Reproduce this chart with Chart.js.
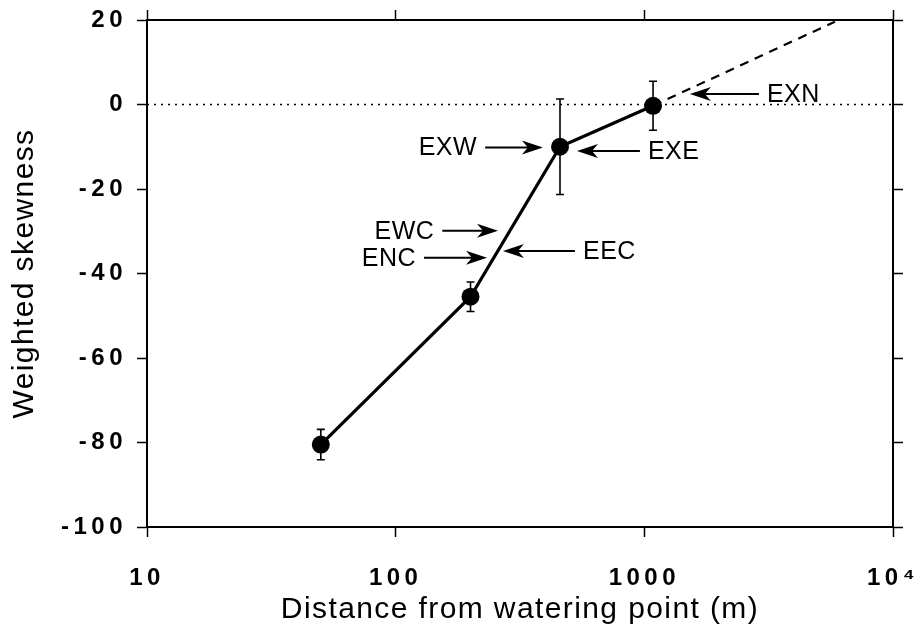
<!DOCTYPE html>
<html>
<head>
<meta charset="utf-8">
<title>Weighted skewness vs distance</title>
<script src="https://cdn.jsdelivr.net/npm/chart.js@4.4.1/dist/chart.umd.min.js"></script>
<style>
    html, body { margin: 0; padding: 0; background: #ffffff; }
    #wrap { width: 917px; height: 643px; position: relative; }
</style>
</head>
<body>
<div id="wrap"><canvas id="skewChart" width="917" height="643"></canvas></div>
<script>
// Data
const distance = [50, 200, 458, 1084];          // m
const skewness = [-80.5, -45.5, -10, -0.3];
const errorBar = [3.6, 3.5, 11.3, 5.8];          // +/- half length

// dashed extrapolation from the last point
const extensionX = [1084, 5840];
const extensionY = [-0.3, 19.6];

// dotted zero reference
const zeroX = [10, 10000];
const zeroY = [0, 0];

const xTicks = [10, 100, 1000, 10000];
const yTicks = [20, 0, -20, -40, -60, -80, -100];

// arrow annotations (data units): label, tail x, head x, y
const arrowLabels = ['EXN', 'EXW', 'EXE', 'EWC', 'ENC', 'EEC'];
const arrowTail = [2890, 229, 960, 154, 130, 526];
const arrowHead = [1525, 391, 536, 258, 233, 270];
const arrowY = [2.5, -10.2, -11, -29.9, -36.3, -34.7];

const FONT = "'Liberation Sans', Arial, Helvetica, sans-serif";

const toPoints = (xs, ys) => xs.map((x, i) => ({ x: x, y: ys[i] }));

// Error bars drawn under the markers
const errorBars = {
    id: 'errorBars',
    beforeDatasetsDraw(chart) {
        const { ctx, scales: { x, y } } = chart;
        ctx.save();
        ctx.strokeStyle = '#000';
        ctx.lineWidth = 1.6;
        distance.forEach((d, i) => {
            const px = x.getPixelForValue(d);
            const top = y.getPixelForValue(skewness[i] + errorBar[i]);
            const bot = y.getPixelForValue(skewness[i] - errorBar[i]);
            ctx.beginPath();
            ctx.moveTo(px, top);
            ctx.lineTo(px, bot);
            ctx.moveTo(px - 4, top);
            ctx.lineTo(px + 4, top);
            ctx.moveTo(px - 4, bot);
            ctx.lineTo(px + 4, bot);
            ctx.stroke();
        });
        ctx.restore();
    }
};

// Arrows with their labels
const arrows = {
    id: 'arrows',
    afterDatasetsDraw(chart) {
        const { ctx, scales: { x, y } } = chart;
        ctx.save();
        ctx.strokeStyle = '#000';
        ctx.fillStyle = '#000';
        ctx.lineWidth = 2;
        ctx.font = '25px ' + FONT;
        ctx.letterSpacing = '0.5px';
        ctx.textBaseline = 'middle';
        arrowLabels.forEach((label, i) => {
            const tx = x.getPixelForValue(arrowTail[i]);
            const hx = x.getPixelForValue(arrowHead[i]);
            const py = y.getPixelForValue(arrowY[i]);
            const dir = hx > tx ? 1 : -1;
            ctx.beginPath();
            ctx.moveTo(tx, py);
            ctx.lineTo(hx - dir * 6, py);
            ctx.stroke();
            // concave arrow head
            ctx.beginPath();
            ctx.moveTo(hx, py);
            ctx.lineTo(hx - dir * 21, py - 7);
            ctx.lineTo(hx - dir * 15, py);
            ctx.lineTo(hx - dir * 21, py + 7);
            ctx.closePath();
            ctx.fill();
            // label sits beyond the tail
            ctx.textAlign = dir > 0 ? 'right' : 'left';
            ctx.fillText(label, tx - dir * 8, py + 1);
        });
        ctx.restore();
    }
};

// The original lettering is widely spaced; wrap the scale text drawing
const spacedText = {
    id: 'spacedText',
    beforeDraw(chart) {
        ['x', 'y'].forEach(id => {
            const scale = chart.scales[id];
            if (!scale || scale._spaced) return;
            const wrap = (name, spacing) => {
                const orig = scale[name];
                scale[name] = function (area) {
                    this.ctx.save();
                    this.ctx.letterSpacing = spacing;
                    orig.call(this, area);
                    this.ctx.restore();
                };
            };
            wrap('drawLabels', '4.5px');
            wrap('drawTitle', '1.4px');
            scale._spaced = true;
        });
    }
};

const fixedSize = (size) => (scale) => {
    if (scale.isHorizontal()) scale.height = size;
    else scale.width = size;
    scale.paddingLeft = 0;
    scale.paddingRight = 0;
    scale.paddingTop = 0;
    scale.paddingBottom = 0;
};

const onlyTicks = (values) => (scale) => {
    scale.ticks = values.map(v => ({ value: v }));
};

const axisGrid = {
    drawOnChartArea: false,
    drawTicks: true,
    tickLength: 10,
    tickWidth: 1.5,
    tickColor: '#000'
};
const axisBorder = { display: true, color: '#000', width: 2 };

const ctx = document.getElementById('skewChart');

new Chart(ctx, {
    type: 'scatter',
    data: {
        datasets: [
            {
                label: 'zero',
                data: toPoints(zeroX, zeroY),
                showLine: true,
                borderColor: '#000',
                borderWidth: 1.6,
                borderDash: [2, 5],
                pointRadius: 0,
                order: 3
            },
            {
                label: 'extension',
                data: toPoints(extensionX, extensionY),
                showLine: true,
                borderColor: '#000',
                borderWidth: 2.2,
                borderDash: [9, 7],
                pointRadius: 0,
                order: 2
            },
            {
                label: 'Weighted skewness',
                data: toPoints(distance, skewness),
                showLine: true,
                borderColor: '#000',
                borderWidth: 3.2,
                backgroundColor: '#000',
                pointBackgroundColor: '#000',
                pointBorderColor: '#000',
                pointRadius: 9,
                pointBorderWidth: 0,
                order: 1
            }
        ]
    },
    options: {
        responsive: false,
        animation: false,
        layout: { padding: 0 },
        plugins: {
            legend: { display: false },
            tooltip: { enabled: false }
        },
        scales: {
            x: {
                type: 'logarithmic',
                position: 'bottom',
                min: 10,
                max: 10000,
                afterBuildTicks: onlyTicks(xTicks),
                afterFit: fixedSize(116),
                grid: axisGrid,
                border: axisBorder,
                ticks: {
                    color: '#000',
                    padding: 27,
                    maxRotation: 0,
                    font: { family: FONT, size: 24, weight: 'bold' },
                    callback: (v) => v === 10000 ? '10\u2074' : String(v)
                },
                title: {
                    display: true,
                    text: 'Distance from watering point (m)',
                    color: '#000',
                    font: { family: FONT, size: 30 },
                    padding: { top: 0, bottom: 15 }
                }
            },
            x2: {
                type: 'logarithmic',
                position: 'top',
                min: 10,
                max: 10000,
                afterBuildTicks: onlyTicks(xTicks),
                afterFit: fixedSize(20),
                grid: axisGrid,
                border: axisBorder,
                ticks: { display: false }
            },
            y: {
                type: 'linear',
                position: 'left',
                min: -100,
                max: 20,
                afterBuildTicks: onlyTicks(yTicks),
                afterFit: fixedSize(147),
                grid: axisGrid,
                border: axisBorder,
                ticks: {
                    color: '#000',
                    padding: 10,
                    font: { family: FONT, size: 24, weight: 'bold' }
                },
                title: {
                    display: true,
                    text: 'Weighted skewness',
                    color: '#000',
                    font: { family: FONT, size: 30 },
                    padding: { top: 7, bottom: 0 }
                }
            },
            y2: {
                type: 'linear',
                position: 'right',
                min: -100,
                max: 20,
                afterBuildTicks: onlyTicks(yTicks),
                afterFit: fixedSize(24),
                grid: axisGrid,
                border: axisBorder,
                ticks: { display: false }
            }
        }
    },
    plugins: [errorBars, arrows, spacedText]
});
</script>
</body>
</html>
